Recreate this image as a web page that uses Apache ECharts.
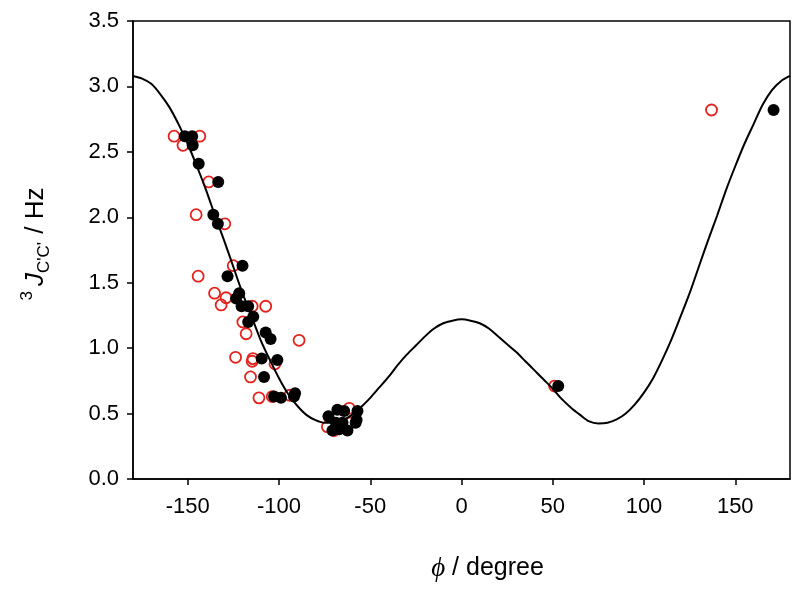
<!DOCTYPE html>
<html>
<head>
<meta charset="utf-8">
<script src="https://cdn.jsdelivr.net/npm/echarts@6/dist/echarts.min.js"></script>
<style>html,body{margin:0;padding:0;background:#fff;}#c{width:799px;height:593px;}</style>
</head>
<body>
<div id="c"></div>
<script>
// Fitted curve at 5-degree steps
const curvePhi = [-180,-175,-170,-165,-160,-155,-150,-145,-140,-135,-130,-125,-120,-115,-110,-105,-100,-95,-90,-85,-80,-75,-70,-65,-60,-55,-50,-45,-40,-35,-30,-25,-20,-15,-10,-5,
  0,5,10,15,20,25,30,35,40,45,50,55,60,65,70,75,80,85,90,95,100,105,110,115,120,125,130,135,140,145,150,155,160,165,170,175,180];
const curveJ = [3.08,3.06,3.02,2.94,2.84,2.71,2.56,2.39,2.21,2.01,1.82,1.62,1.42,1.24,1.06,0.91,0.77,0.65,0.56,0.49,0.45,0.43,0.43,0.45,0.49,0.55,0.62,0.70,0.78,0.87,0.95,1.02,1.09,1.15,1.19,1.21,
  1.22,1.21,1.19,1.15,1.09,1.03,0.97,0.90,0.83,0.76,0.69,0.61,0.545,0.49,0.44,0.425,0.43,0.455,0.50,0.57,0.66,0.77,0.91,1.065,1.24,1.42,1.62,1.82,2.01,2.21,2.39,2.56,2.71,2.86,2.97,3.04,3.08];

// Filled black circles
const blackPhi = [-151.6,-147.6,-147.3,-144,-133.3,-136,-133.5,-120,-128.2,-121.8,-123.5,-120.5,-116.9,-114.1,-116.9,-107.3,-104.6,-109.5,-100.9,-108.2,-102.7,-98.9,-91.2,-91.8,-68,-64.3,-72.9,-57,-57.5,-58,-68.8,-65.2,-70.7,-67,-62.5,53,171];
const blackJ = [2.62,2.62,2.55,2.41,2.27,2.02,1.95,1.63,1.55,1.42,1.38,1.32,1.32,1.24,1.20,1.12,1.07,0.92,0.91,0.78,0.63,0.62,0.655,0.63,0.53,0.52,0.48,0.52,0.45,0.43,0.43,0.43,0.37,0.38,0.37,0.71,2.82];

// Open red circles
const redPhi = [-157.5,-143.4,-152.6,-138.5,-145.4,-129.7,-125.1,-144.3,-135.3,-129,-131.7,-114.7,-107.3,-119.8,-118,-89,-123.8,-114.3,-114.7,-102.2,-115.6,-111,-103.7,-94.1,-61.5,-60.6,-73.5,-69.8,51,137];
const redJ = [2.62,2.62,2.55,2.27,2.02,1.95,1.63,1.55,1.42,1.385,1.33,1.32,1.32,1.20,1.11,1.06,0.93,0.92,0.90,0.88,0.78,0.62,0.63,0.64,0.54,0.43,0.40,0.37,0.71,2.82];

const xTicks = [-150,-100,-50,0,50,100,150];
const yTicks = [0,0.5,1,1.5,2,2.5,3,3.5];

const zip = (a,b) => a.map((v,i)=>[v,b[i]]);
const font = 'Liberation Sans, Arial, sans-serif';

const chart = echarts.init(document.getElementById('c'), null, {renderer:'canvas'});
chart.setOption({
  animation:false,
  backgroundColor:'#fff',
  grid:{left:133,right:9,top:21,bottom:114,show:true,borderColor:'#000',borderWidth:1.5,backgroundColor:'transparent'},
  xAxis:{
    type:'value',min:-180,max:180,
    axisLine:{show:true,onZero:false,lineStyle:{color:'#000',width:1.5}},
    axisTick:{show:true,inside:false,length:6,lineStyle:{color:'#000',width:1.5},customValues:xTicks},
    axisLabel:{fontFamily:font,fontSize:22,color:'#000',margin:17,customValues:xTicks},
    splitLine:{show:false},
    name:'{i|ϕ} / degree',nameLocation:'middle',nameGap:76,
    nameTextStyle:{fontFamily:font,fontSize:25,color:'#000',padding:[0,0,0,52],
      rich:{i:{fontFamily:'Liberation Serif, serif',fontStyle:'italic',fontSize:27,color:'#000'}}}
  },
  yAxis:{
    type:'value',min:0,max:3.5,interval:0.5,
    axisLine:{show:true,onZero:false,lineStyle:{color:'#000',width:1.5}},
    axisTick:{show:true,inside:false,length:6,lineStyle:{color:'#000',width:1.5},customValues:yTicks},
    axisLabel:{fontFamily:font,fontSize:22,color:'#000',margin:14,formatter:v=>v.toFixed(1)},
    splitLine:{show:false},
    name:'{sup|3}{i|J}{sub|C\'C\'} / Hz',nameLocation:'middle',nameGap:80,nameRotate:90,
    nameTextStyle:{fontFamily:font,fontSize:26,color:'#000',lineHeight:34,padding:[0,0,0,12],
      rich:{
        sup:{fontFamily:font,fontSize:17,color:'#000',verticalAlign:'top',lineHeight:34,padding:[0,5,12,0]},
        i:{fontFamily:font,fontStyle:'italic',fontSize:26,color:'#000',lineHeight:34},
        sub:{fontFamily:font,fontSize:17,color:'#000',verticalAlign:'bottom',lineHeight:34,padding:[12,1,0,0]}
      }}
  },
  series:[
    {type:'scatter',name:'open',data:zip(redPhi,redJ),symbol:'circle',symbolSize:11,
     itemStyle:{color:'rgba(0,0,0,0)',borderColor:'#e3231c',borderWidth:1.8,opacity:1},z:2},
    {type:'line',name:'fit',data:zip(curvePhi,curveJ),smooth:0.3,showSymbol:false,
     lineStyle:{color:'#000',width:2},z:3},
    {type:'scatter',name:'filled',data:zip(blackPhi,blackJ),symbol:'circle',symbolSize:12,
     itemStyle:{color:'#000',opacity:1},z:4}
  ]
});
</script>
</body>
</html>
